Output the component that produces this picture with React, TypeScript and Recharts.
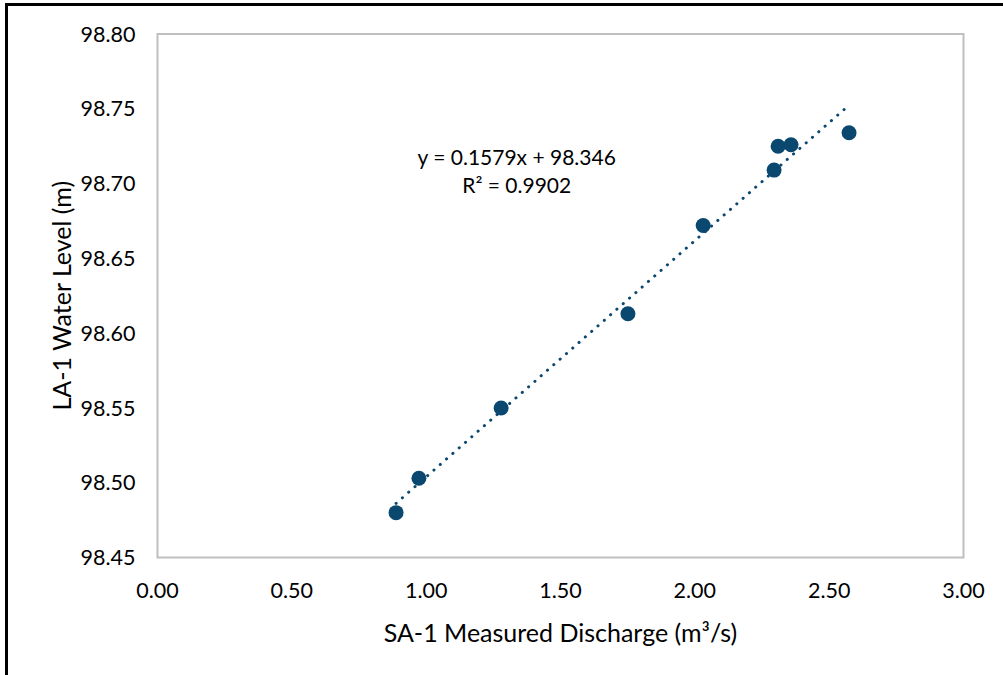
import React from 'react';
import { ScatterChart, Scatter, XAxis, YAxis, ReferenceArea, ReferenceDot, Label } from 'recharts';

const discharge = [0.888, 0.973, 1.279, 1.751, 2.031, 2.295, 2.31, 2.358, 2.574];
const waterLevel = [98.48, 98.503, 98.55, 98.613, 98.672, 98.709, 98.725, 98.726, 98.734];
const xTicks = [0, 0.5, 1, 1.5, 2, 2.5, 3];
const yTicks = [98.45, 98.5, 98.55, 98.6, 98.65, 98.7, 98.75, 98.8];
const slope = 0.1579;
const intercept = 98.346;
const eqLine1 = 'y = 0.1579x + 98.346';
const eqLine2 = 'R² = 0.9902';
const xTitle = 'SA-1 Measured Discharge (m³/s)';
const yTitle = 'LA-1 Water Level (m)';

const points = discharge.map((x, i) => ({ x, y: waterLevel[i] }));
const xMin = Math.min(...discharge);
const xMax = Math.max(...discharge);
const trend = [
  { x: xMin, y: slope * xMin + intercept },
  { x: xMax, y: slope * xMax + intercept },
];

const FONT = 'Lato, "Open Sans", sans-serif';
const COLOR = '#0B4870';

const EqLabel = (props: any) => {
  const vb = props.viewBox || {};
  const cx = vb.cx ?? vb.x;
  const cy = vb.cy ?? vb.y;
  return (
    <g>
      <text x={cx} y={cy - 14} textAnchor="middle" dominantBaseline="central" fontFamily={FONT} fontSize={21} fill="#000">{eqLine1}</text>
      <text x={cx} y={cy + 14} textAnchor="middle" dominantBaseline="central" fontFamily={FONT} fontSize={21} fill="#000">{eqLine2}</text>
    </g>
  );
};

const Dot = (props: any) => <circle cx={props.cx} cy={props.cy} r={7.5} fill={COLOR} />;

export default function App() {
  return (
    <div style={{ position: 'absolute', left: 0, top: 0, width: 1003, height: 675, background: '#fff' }}>
      <div style={{ position: 'absolute', left: 5, top: 3, width: 998, height: 672, borderLeft: '3px solid #000', borderTop: '3px solid #000', boxSizing: 'border-box' }} />
      <div style={{ position: 'absolute', left: 0, top: 0 }}>
        <ScatterChart width={1003} height={675} margin={{ top: 34, right: 39.5, bottom: 0, left: 0 }}>
          <XAxis
            type="number"
            dataKey="x"
            domain={[0, 3]}
            ticks={xTicks}
            tickFormatter={(v: number) => v.toFixed(2)}
            axisLine={false}
            tickLine={false}
            tickSize={0}
            tickMargin={25}
            height={117.5}
            tick={{ fill: '#000', fontSize: 21.5, fontFamily: FONT }}
            allowDataOverflow
          >
            <Label value={xTitle} position="insideBottom" offset={33} style={{ fill: '#000', fontSize: 25, fontFamily: FONT }} />
          </XAxis>
          <YAxis
            type="number"
            dataKey="y"
            domain={[98.45, 98.8]}
            ticks={yTicks}
            tickFormatter={(v: number) => v.toFixed(2)}
            axisLine={false}
            tickLine={false}
            tickSize={0}
            tickMargin={22}
            width={157.5}
            tick={{ fill: '#000', fontSize: 21.5, fontFamily: FONT }}
            allowDataOverflow
          >
            <Label value={yTitle} angle={-90} position="insideLeft" offset={62} style={{ fill: '#000', fontSize: 25, fontFamily: FONT, textAnchor: 'middle' }} />
          </YAxis>
          <ReferenceArea x1={0} x2={3} y1={98.45} y2={98.8} fill="none" stroke="#BFBFBF" strokeWidth={2} />
          <Scatter
            data={trend}
            isAnimationActive={false}
            line={{ stroke: COLOR, strokeWidth: 3, strokeDasharray: '0.1 8.3', strokeLinecap: 'round' }}
            shape={() => <g />}
          />
          <Scatter data={points} fill={COLOR} shape={<Dot />} isAnimationActive={false} />
          <ReferenceDot x={1.337} y={98.709} r={0} fill="none" stroke="none" label={<EqLabel />} />
        </ScatterChart>
      </div>
    </div>
  );
}
